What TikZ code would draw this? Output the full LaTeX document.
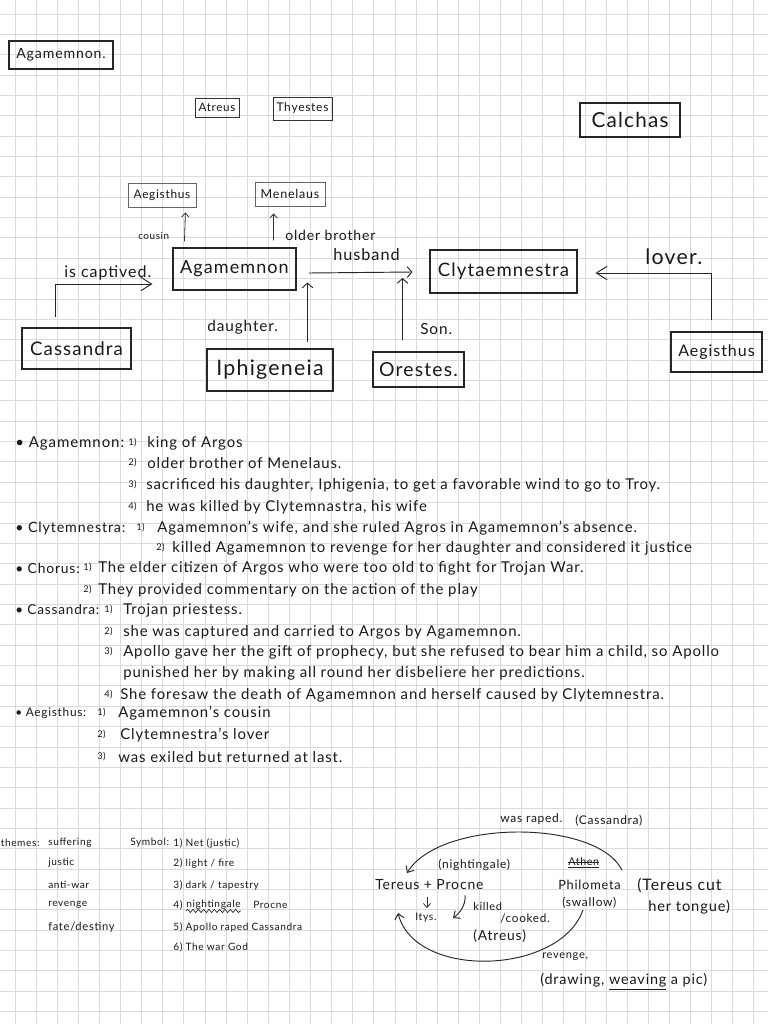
\documentclass[tikz,border=0pt]{standalone}
\usepackage{fontspec}
\setmainfont{Lato}[LetterSpace=6]
\usetikzlibrary{arrows.meta,calc,decorations.pathmorphing}
\newcommand\fsz[1]{\fontsize{#1}{#1}\selectfont}
\begin{document}
\begin{tikzpicture}[x=0.75pt,y=-0.75pt,
  gridl/.style={draw=black!14, line width=0.7pt},
  box/.style={draw=black!85, line width=0.8pt, inner sep=0pt, text=black!90},
  sbox/.style={draw=black!80, line width=0.6pt, inner sep=0pt, text=black!90},
  lbl/.style={anchor=west, inner sep=0pt, text=black!90},
  lst/.style={anchor=west, inner sep=0pt, text=black!90, font=\fsz{11.2}},
  num/.style={anchor=west, inner sep=0pt, text=black!90, font=\fsz{7}},
  lab/.style={anchor=west, inner sep=0pt, text=black!90, font=\fsz{10.4}},
  sm/.style={anchor=west, inner sep=0pt, text=black!90, font=\fsz{7.6}},
  bigtip/.style={draw=black!85, line width=0.7pt, -{Straight Barb[length=8pt,width=10pt]}},
  midtip/.style={draw=black!85, line width=0.7pt, -{Straight Barb[length=3.5pt,width=8pt]}},
  smalltip/.style={draw=black!80, line width=0.6pt, -{Straight Barb[length=3pt,width=5.5pt]}},
  curv/.style={draw=black!85, line width=0.7pt, -{Straight Barb[length=4pt,width=7pt]}}]
\clip (0,0) rectangle (768,1024);
\fill[white] (0,0) rectangle (768,1024);
\foreach \k in {0,...,36} \draw[gridl] ({15+21.11*\k},0) -- ({15+21.11*\k},1024);
\foreach \k in {0,...,50} \draw[gridl] (0,{14+20.36*\k}) -- (768,{14+20.36*\k});

% ---- top diagram ----
\node[box, minimum width=78pt, minimum height=21pt, font=\fsz{10.6}] (title) at (61,55) {Agamemnon.};
\node[sbox, minimum width=33pt, minimum height=14.25pt, font=\fsz{8.7}] (atreus) at (217,107.5) {Atreus};
\node[sbox, minimum width=44.25pt, minimum height=17.25pt, font=\fsz{9}] (thyestes) at (302.5,108.5) {Thyestes};
\node[box, minimum width=75pt, minimum height=25.5pt, font=\fsz{15.5}] (calchas) at (630,120) {Calchas};
\node[sbox, draw=black!60, minimum width=51pt, minimum height=18pt, font=\fsz{8.9}] (aegt) at (162,195) {Aegisthus};
\node[sbox, draw=black!60, minimum width=52.5pt, minimum height=18pt, font=\fsz{9.4}] (men) at (290,194) {Menelaus};
\node[box, minimum width=92.25pt, minimum height=31.5pt, font=\fsz{13.5}] (agam) at (234.5,269) {Agamemnon};
\node[box, minimum width=81.75pt, minimum height=30.75pt, font=\fsz{14}] (cass) at (76.5,348.5) {Cassandra};
\node[box, minimum width=94.5pt, minimum height=31.5pt, font=\fsz{16}] (iph) at (270,370) {Iphigeneia};
\node[box, minimum width=68.25pt, minimum height=26.25pt, font=\fsz{14.5}] (ores) at (418.5,369.5) {Orestes.};
\node[box, minimum width=110.25pt, minimum height=32.25pt, font=\fsz{13.9}] (clyt) at (503.5,271.5) {Clytaemnestra};
\node[box, minimum width=68.25pt, minimum height=30pt, font=\fsz{12}] (aegr) at (716.5,352) {Aegisthus};

\draw[smalltip] ($(agam.north west)+(12,-6)$) -- ($(aegt.south east)+(-11,5)$);
\draw[smalltip] ($(agam.north west)+(101,-7)$) -- ($(men.south west)+(19,7)$);
\draw[bigtip] ($(cass.north west)+(34,-10)$) |- ($(agam.west)+(-20,15)$);
\draw[midtip] ($(agam.east)+(12,4)$) -- ($(clyt.west)+(-17,0.5)$);
\draw[midtip] ($(iph.north east)+(-26,-6)$) -- ($(agam.south east)+(11,-8)$);
\draw[midtip] ($(ores.north west)+(30,-11)$) -- ($(clyt.west)+(-27,6.5)$);
\draw[bigtip] ($(aegr.north)+(-5.5,-11)$) |- ($(clyt.east)+(18,1.5)$);

\node[lbl, font=\fsz{7.4}] (lcousin) at (138,236) {cousin};
\node[lbl, font=\fsz{10.5}] (lolder) at (285,235) {older brother};
\node[lbl, font=\fsz{12.2}] (lhus) at (333,255) {husband};
\node[lbl, font=\fsz{12}] (lcapt) at (64,273) {is captived.};
\node[lbl, font=\fsz{11.5}] (ldau) at (207,327) {daughter.};
\node[lbl, font=\fsz{11.5}] (lson) at (420,329) {Son.};
\node[lbl, font=\fsz{16}] (llover) at (645,257) {lover.};

% ---- notes ----
\node[lab, font=\fsz{11.3}] (hag) at (15,443) {• Agamemnon:};
\node[num] (ag1n) at (128,443) {1)}; \node[lst] (ag1) at (147,443) {king of Argos};
\node[num] (ag2n) at (128,463) {2)}; \node[lst] (ag2) at (147,463) {older brother of Menelaus.};
\node[num] (ag3n) at (128,485) {3)}; \node[lst] (ag3) at (146,485) {sacrificed his daughter, Iphigenia, to get a favorable wind to go to Troy.};
\node[num] (ag4n) at (128,507) {4)}; \node[lst] (ag4) at (146,507) {he was killed by Clytemnastra, his wife};

\node[lab, font=\fsz{10.7}] (hcl) at (15,528) {• Clytemnestra:};
\node[num] (cl1n) at (136,528) {1)}; \node[lst] (cl1) at (157,528) {Agamemnon's wife, and she ruled Agros in Agamemnon's absence.};
\node[num] (cl2n) at (156,548) {2)}; \node[lst] (cl2) at (172,548) {killed Agamemnon to revenge for her daughter and considered it justice};

\node[lab] (hch) at (15,568) {• Chorus:};
\node[num] (ch1n) at (83,568) {1)}; \node[lst] (ch1) at (98,568) {The elder citizen of Argos who were too old to fight for Trojan War.};
\node[num] (ch2n) at (83,590) {2)}; \node[lst] (ch2) at (98,590) {They provided commentary on the action of the play};

\node[lab, font=\fsz{10.2}] (hca) at (15,610) {• Cassandra:};
\node[num] (ca1n) at (104,610) {1)}; \node[lst] (ca1) at (123,610) {Trojan priestess.};
\node[num] (ca2n) at (104,632) {2)}; \node[lst] (ca2) at (123,632) {she was captured and carried to Argos by Agamemnon.};
\node[num] (ca3n) at (104,652) {3)}; \node[lst] (ca3) at (123,652) {Apollo gave her the gift of prophecy, but she refused to bear him a child, so Apollo};
\node[lst] (ca3b) at (123,673) {punished her by making all round her disbeliere her predictions.};
\node[num] (ca4n) at (104,695) {4)}; \node[lst] (ca4) at (120,695) {She foresaw the death of Agamemnon and herself caused by Clytemnestra.};

\node[lab, font=\fsz{8.9}] (hae) at (15,713) {• Aegisthus:};
\node[num] (ae1n) at (97,713) {1)}; \node[lst] (ae1) at (118,713) {Agamemnon's cousin};
\node[num] (ae2n) at (97,735) {2)}; \node[lst] (ae2) at (120,735) {Clytemnestra's lover};
\node[num] (ae3n) at (97,757) {3)}; \node[lst] (ae3) at (118,757) {was exiled but returned at last.};

% ---- bottom left ----
\node[sm] (themes) at (0.5,843) {themes:};
\node[sm] (th1) at (48,843) {suffering};
\node[sm] (th2) at (48,863) {justic};
\node[sm] (th3) at (48,885) {anti-war};
\node[sm] (th4) at (48,905) {revenge};
\node[sm, font=\fsz{8.4}] (th5) at (48,927) {fate/destiny};
\node[sm] (symbol) at (130,843) {Symbol:};
\node[sm] (sy1) at (173,843) {1) Net (justic)};
\node[sm] (sy2) at (173,863) {2) light / fire};
\node[sm] (sy3) at (173,885) {3) dark / tapestry};
\node[sm] (sy4n) at (173,905) {4)};
\node[sm] (sy4) at (186,905) {nightingale};
\node[sm] (sy4b) at (253,905) {Procne};
\draw[black!85, line width=0.5pt, decorate, decoration={snake, amplitude=1.2pt, segment length=4pt}] ($(sy4.south west)+(0,1)$) -- ($(sy4.south east)+(0,1)$);
\node[sm] (sy5) at (173,927) {5) Apollo raped Cassandra};
\node[sm] (sy6) at (173,947) {6) The war God};

% ---- bottom right ----
\node[lbl, font=\fsz{9}] (raped) at (500,819) {was raped.};
\node[lbl, font=\fsz{9}] (cass2) at (575,821) {(Cassandra)};
\node[lbl, font=\fsz{9}] (night) at (438,865) {(nightingale)};
\node[lbl, font=\fsz{8}] (athen) at (568,862) {Athen};
\draw[black!85, line width=0.6pt] (athen.west) -- (athen.east);
\draw[black!85, line width=0.6pt] ($(athen.south west)+(0,1)$) -- ($(athen.south east)+(0,1)$);
\node[lbl, font=\fsz{10.5}] (tp) at (375,885) {Tereus + Procne};
\node[lbl, font=\fsz{9.6}] (philo) at (558,885) {Philometa};
\node[lbl, font=\fsz{11.9}] (tcut) at (637,885) {(Tereus cut};
\node[lbl, font=\fsz{11}] (tongue) at (648,907) {her tongue)};
\node[lbl, font=\fsz{9}] (swallow) at (562,903) {(swallow)};
\node[lbl, font=\fsz{7.8}] (itys) at (415,918) {Itys.};
\node[lbl, font=\fsz{8.3}] (killed) at (473,906) {killed};
\node[lbl, font=\fsz{8.8}] (cooked) at (500,918) {/cooked.};
\node[lbl, font=\fsz{10.4}] (atreus2) at (473,936) {(Atreus)};
\node[lbl, font=\fsz{8.3}] (revenge) at (542,957) {revenge,};
\node[lbl, font=\fsz{10.8}] (drawing) at (540,982) {(drawing, \underline{weaving} a pic)};

\draw[smalltip] ($(tp.west)+(52,12)$) -- ($(tp.west)+(52,23)$);
\draw[curv] ($(tp.west)+(90,10)$) .. controls ($(tp.west)+(91,20)$) and ($(tp.west)+(85,28)$) .. ($(itys.west)+(38,0)$);
\draw[curv] ($(philo.west)+(64,-15)$) .. controls (596,819) and (440,819) .. ($(tp.west)+(32,-12)$);
\draw[curv] ($(swallow.west)+(21,7)$) .. controls (560,975) and (415,980) .. ($(tp.west)+(23,28)$);
\end{tikzpicture}
\end{document}
